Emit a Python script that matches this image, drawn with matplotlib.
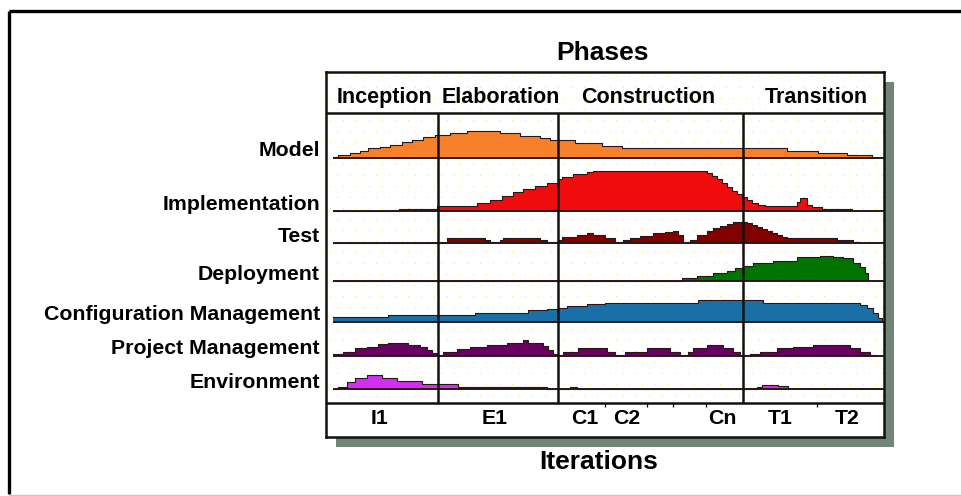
import numpy as np
import matplotlib
matplotlib.use("Agg")
import matplotlib.pyplot as plt
from matplotlib.patches import Rectangle

plt.rcParams["font.family"] = ["Liberation Sans", "DejaVu Sans"]
plt.rcParams["font.weight"] = "bold"

# project timeline in days, effort heights per discipline
phases = ["Inception", "Elaboration", "Construction", "Transition"]
phase_ends = [105, 225, 410]
iterations = ["I1", "E1", "C1", "C2", "Cn", "T1", "T2"]
iteration_ticks = [272, 314, 340, 373, 484]

model_days = [0, 5, 17, 27, 35, 47, 57, 69, 79, 90, 102, 117, 134, 167, 187, 207, 217, 242, 269, 289, 454, 485, 514, 539]
model_h = [1, 3, 4.7, 7.3, 9.7, 11.3, 13, 16.3, 18, 20.7, 23, 25.3, 27.3, 25.3, 22, 19.7, 18, 14.7, 12, 10.5, 7.3, 4.7, 3, 0]

impl_days = [0, 66, 104, 144, 157, 169, 180, 190, 202, 214, 225, 229, 240, 254, 260, 374, 379, 384, 389, 394, 399,
             404, 409, 414, 419, 425, 432, 464, 467, 474, 479, 489, 519]
impl_h = [0, 2, 5, 8, 11, 15, 19, 22, 25, 28.3, 32, 33.7, 37, 39, 40.5, 38, 35, 32, 28, 24, 20,
          17, 14, 11, 8, 6.5, 5.3, 9, 12.7, 6, 3.7, 2, 0]

test_days = [0, 114, 152, 157, 167, 170, 207, 214, 225, 229, 244, 254, 260, 272, 282, 290, 297, 307, 320, 332,
             340, 345, 350, 357, 364, 374, 380, 387, 394, 400, 407, 414, 419, 424, 429, 434, 439, 444, 449, 454,
             504, 520, 527]
test_h = [0, 4.7, 3, 1.3, 3, 4.7, 3, 1.3, 3, 6.3, 8, 10.3, 8, 4.7, 1.3, 3, 4.7, 7, 9.7, 11,
          12.3, 8, 1.3, 3, 8, 12.3, 15, 17.3, 19, 20.7, 21.3, 19.7, 18, 16.3, 14, 12.3, 10, 8, 6, 4.7,
          3, 1.3, 0]

deploy_days = [0, 349, 364, 380, 394, 402, 410, 420, 440, 464, 487, 500, 510, 520, 527, 532, 535]
deploy_h = [0, 2.7, 5, 7.7, 10.3, 12.7, 15, 17.7, 20.3, 23.7, 25.3, 24.5, 22.7, 18.3, 14.3, 7.7, 0]

config_days = [0, 55, 142, 195, 214, 225, 234, 254, 272, 365, 430, 520, 527, 534, 540, 545, 549]
config_h = [4.7, 7, 9.3, 12, 13, 13.7, 16, 18, 19.5, 22, 19.3, 18.7, 17, 13.7, 8.7, 3.7, 0]

pm_days = [0, 10, 22, 34, 45, 55, 75, 87, 94, 99, 105, 110, 124, 137, 154, 174, 190, 195, 210, 215,
           220, 225, 230, 245, 274, 282, 292, 314, 337, 347, 355, 360, 374, 390, 400, 407, 417, 427, 444, 460,
           480, 517, 527, 537, 543]
pm_h = [2, 4.3, 7.7, 9.3, 12, 13.3, 11, 9.3, 6, 3, 1.5, 4.3, 6.7, 8.7, 11, 13.3, 16, 13.3, 10, 6,
        2, 1, 4.3, 7.7, 4.3, 1.5, 4.3, 7.7, 4.3, 1.5, 4.3, 7.7, 11, 8, 4, 1, 2.5, 4.3, 7.7, 8.7,
        11, 7.7, 4, 1.5, 0]

env_days = [0, 5, 14, 22, 34, 49, 64, 89, 125, 214, 237, 244, 424, 429, 445, 455]
env_h = [0.5, 2.3, 7.3, 10.7, 14, 10.7, 8.5, 4.7, 2.3, 0, 1.7, 0, 2.5, 4, 3.5, 0]

rows = [
    ("Model", model_days, model_h, "#f7802b", 158),
    ("Implementation", impl_days, impl_h, "#f00c0c", 211),
    ("Test", test_days, test_h, "#820000", 243),
    ("Deployment", deploy_days, deploy_h, "#007300", 281),
    ("Configuration Management", config_days, config_h, "#1a70a6", 322),
    ("Project Management", pm_days, pm_h, "#680062", 356),
    ("Environment", env_days, env_h, "#d42ef0", 389),
]

W, H = 962, 496
fig = plt.figure(figsize=(W / 100, H / 100), dpi=100)
fig.patch.set_facecolor("white")

# background axes in pixel units for frame, shadow and labels
bg = fig.add_axes([0, 0, 1, 1], zorder=0)
bg.set_xlim(0, W)
bg.set_ylim(H, 0)
bg.axis("off")
bg.plot([9, 9], [494, 11], color="black", lw=2.4, solid_capstyle="butt")
bg.plot([9, W], [11, 11], color="black", lw=2.4, solid_capstyle="butt")
bg.plot([9, W], [494.5, 494.5], color="#c8c8c8", lw=1)
bg.add_patch(Rectangle((336, 82), 558, 365, facecolor="#708578", edgecolor="none"))

bg.text(603, 53, "Phases", ha="center", va="center", fontsize=19)
bg.text(599, 462, "Iterations", ha="center", va="center", fontsize=19)
for name, _, _, _, base in rows:
    bg.text(320, base - 1.5, name, ha="right", va="baseline", fontsize=15.3)

# chart box
ax = fig.add_axes([326 / W, 1 - 437 / H, 558 / W, 365 / H], zorder=1)
ax.set_xlim(-7, 551)
ax.set_ylim(437, 72)
ax.set_xticks([])
ax.set_yticks([])
for sp in ax.spines.values():
    sp.set_linewidth(1.8)
    sp.set_color("#111111")

# faint dotted paper texture
gx, gy = np.meshgrid(np.arange(-3, 551, 13), np.arange(76, 401, 11))
gx = gx + (np.arange(gx.shape[0])[:, None] % 2) * 6.5
ax.scatter(gx.ravel(), gy.ravel(), s=0.5, color="#f2e27a", linewidths=0, zorder=0)

line_c = "#2a1616"
for name, days, h, color, base in rows:
    d = np.asarray(days, dtype=float)
    top = base - np.asarray(h, dtype=float)
    ax.fill_between(d, top, base, step="post", color=color, linewidth=0, zorder=2)
    ax.step(d, top, where="post", color=line_c, lw=0.8, zorder=3)
    ax.hlines(base, 0, 551, color=line_c, lw=1.4, zorder=3)

ax.hlines(113, -7, 551, color="#111111", lw=1.8, zorder=4)
ax.hlines(403, -7, 551, color="#111111", lw=1.8, zorder=4)
ax.vlines(phase_ends, 113, 403, color="#111111", lw=1.8, zorder=4)
ax.vlines(iteration_ticks, 403, 406.5, color="#111111", lw=0.9, zorder=4)

for label, x in zip(phases, [51, 168, 315, 483]):
    ax.text(x, 103, label, ha="center", va="baseline", fontsize=15.5)
for label, x in zip(iterations, [47, 162, 252, 294, 389, 447, 514]):
    ax.text(x, 419, label, ha="center", va="center", fontsize=15.3)

fig.savefig("out.png", dpi=100)
